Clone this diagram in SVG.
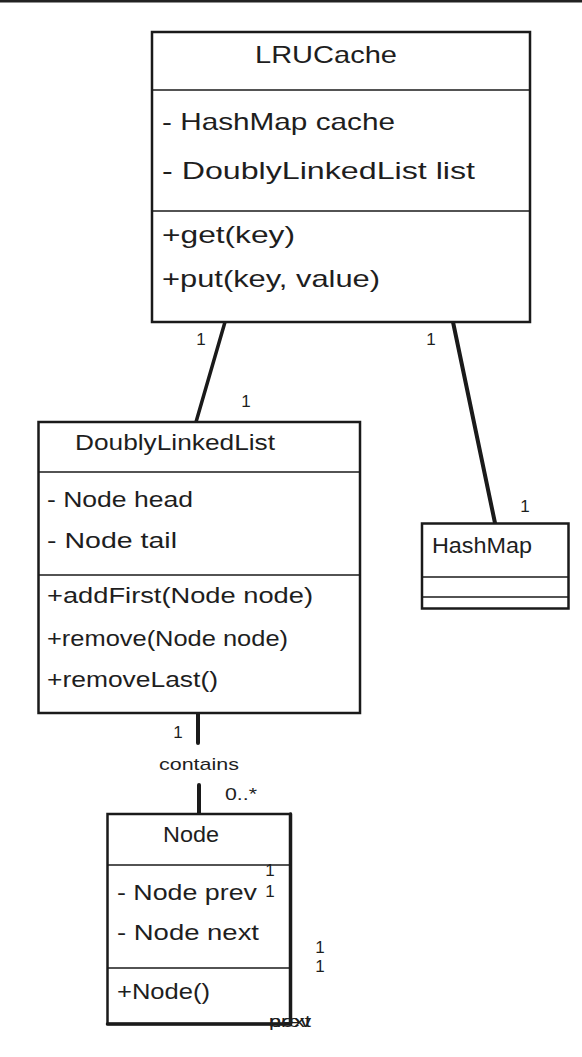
<svg xmlns="http://www.w3.org/2000/svg" width="582" height="1057" viewBox="0 0 582 1057">
<style>
.box{fill:#fff;stroke:#1a1a1a;stroke-width:2.5}
.div{stroke:#1a1a1a;stroke-width:1.5}
.t{font-family:"Liberation Sans",Arial,sans-serif;fill:#1e1e1e}
.big{font-size:24px}
.mid{font-size:22px}
.lbl{font-family:"Liberation Sans",Arial,sans-serif;font-size:17px;fill:#1e1e1e}
.edge{stroke:#1a1a1a;stroke-linecap:round;fill:none}
</style>
<rect x="0" y="0" width="582" height="1057" fill="#fff"/>
<rect x="0" y="0" width="582" height="2.5" fill="#222"/>
<g id="connectors">
<line class="edge" x1="225" y1="322" x2="196" y2="422" stroke-width="3.5"/>
<line class="edge" x1="453" y1="322" x2="495" y2="523" stroke-width="4"/>
<line class="edge" x1="198" y1="713" x2="198" y2="743" stroke-width="4"/>
<line class="edge" x1="199" y1="785" x2="199" y2="814" stroke-width="4"/>
</g>
<g id="LRUCache">
<rect class="box" x="152" y="32" width="378" height="290"/>
<line class="div" x1="152" y1="90" x2="530" y2="90"/>
<line class="div" x1="152" y1="211" x2="530" y2="211"/>
<text class="t big" x="255" y="63" textLength="142" lengthAdjust="spacingAndGlyphs">LRUCache</text>
<text class="t big" x="162" y="130" textLength="233" lengthAdjust="spacingAndGlyphs">- HashMap cache</text>
<text class="t big" x="162" y="179" textLength="313" lengthAdjust="spacingAndGlyphs">- DoublyLinkedList list</text>
<text class="t big" x="162" y="243" textLength="133" lengthAdjust="spacingAndGlyphs">+get(key)</text>
<text class="t big" x="162" y="287" textLength="218" lengthAdjust="spacingAndGlyphs">+put(key, value)</text>
</g>
<g id="DoublyLinkedList">
<rect class="box" x="38.5" y="422" width="321.5" height="291"/>
<line class="div" x1="38.5" y1="472" x2="360" y2="472"/>
<line class="div" x1="38.5" y1="575" x2="360" y2="575"/>
<text class="t mid" x="75" y="450" textLength="200" lengthAdjust="spacingAndGlyphs">DoublyLinkedList</text>
<text class="t mid" x="47" y="507" textLength="146" lengthAdjust="spacingAndGlyphs">- Node head</text>
<text class="t mid" x="47" y="548" textLength="130" lengthAdjust="spacingAndGlyphs">- Node tail</text>
<text class="t mid" x="47" y="603" textLength="266" lengthAdjust="spacingAndGlyphs">+addFirst(Node node)</text>
<text class="t mid" x="47" y="646" textLength="241" lengthAdjust="spacingAndGlyphs">+remove(Node node)</text>
<text class="t mid" x="47" y="687" textLength="171" lengthAdjust="spacingAndGlyphs">+removeLast()</text>
</g>
<g id="HashMap">
<rect class="box" x="422" y="523.5" width="146.5" height="85"/>
<line class="div" x1="422" y1="577" x2="568.5" y2="577"/>
<line class="div" x1="422" y1="597" x2="568.5" y2="597"/>
<text class="t mid" x="432" y="553" textLength="100" lengthAdjust="spacingAndGlyphs">HashMap</text>
</g>
<g id="Node">
<rect class="box" x="107.5" y="814" width="183" height="210"/>
<line class="div" x1="107.5" y1="865" x2="290.5" y2="865"/>
<line class="div" x1="107.5" y1="968" x2="290.5" y2="968"/>
<line class="edge" x1="290.5" y1="814" x2="290.5" y2="1024" stroke-width="3.5"/>
<line class="edge" x1="107.5" y1="1024" x2="290.5" y2="1024" stroke-width="3.5"/>
<text class="t mid" x="163" y="842" textLength="56" lengthAdjust="spacingAndGlyphs">Node</text>
<text class="t mid" x="117" y="900" textLength="140" lengthAdjust="spacingAndGlyphs">- Node prev</text>
<text class="t mid" x="117" y="940" textLength="142" lengthAdjust="spacingAndGlyphs">- Node next</text>
<text class="t mid" x="117" y="999" textLength="93" lengthAdjust="spacingAndGlyphs">+Node()</text>
</g>
<g id="edge-labels">
<text class="lbl" x="201" y="345" text-anchor="middle">1</text>
<text class="lbl" x="246" y="407" text-anchor="middle">1</text>
<text class="lbl" x="431" y="345" text-anchor="middle">1</text>
<text class="lbl" x="525" y="512" text-anchor="middle">1</text>
<text class="lbl" x="178" y="738" text-anchor="middle">1</text>
<text class="lbl" x="199" y="770" text-anchor="middle" textLength="80" lengthAdjust="spacingAndGlyphs">contains</text>
<text class="lbl" x="225" y="800" textLength="32" lengthAdjust="spacingAndGlyphs">0..*</text>
<text class="lbl" x="270" y="876" text-anchor="middle">1</text>
<text class="lbl" x="270" y="897" text-anchor="middle">1</text>
<text class="lbl" x="320" y="953" text-anchor="middle">1</text>
<text class="lbl" x="320" y="972" text-anchor="middle">1</text>
<text class="lbl" x="290" y="1027" text-anchor="middle" textLength="42" lengthAdjust="spacingAndGlyphs">prev</text>
<text class="lbl" x="290" y="1027" text-anchor="middle" textLength="42" lengthAdjust="spacingAndGlyphs">next</text>
</g>
</svg>
